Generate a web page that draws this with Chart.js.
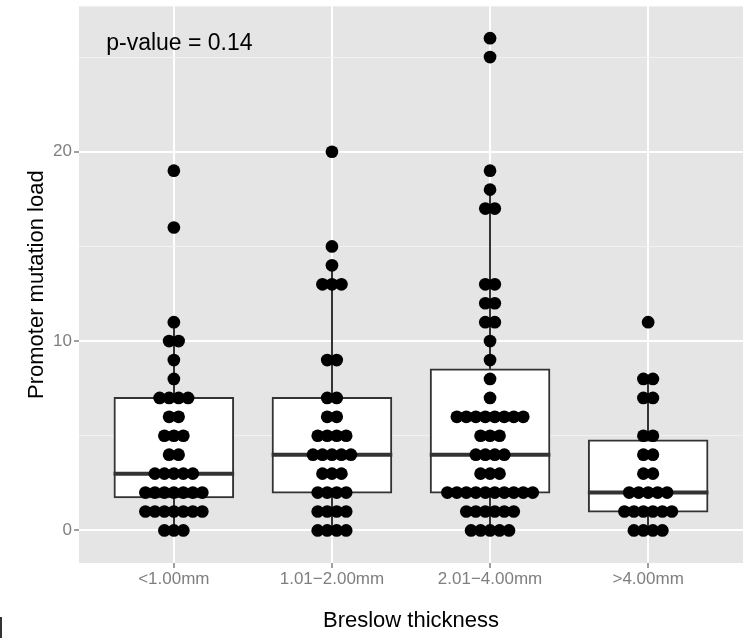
<!DOCTYPE html>
<html>
<head>
<meta charset="utf-8">
<title>Promoter mutation load by Breslow thickness</title>
<script src="https://cdn.jsdelivr.net/npm/chart.js@4/dist/chart.umd.min.js"></script>
<style>
  html, body { margin: 0; padding: 0; background: #ffffff; }
  #wrap { position: relative; width: 751px; height: 638px; }
  #edge { position: absolute; left: 0; top: 617px; width: 2px; height: 21px; background: #333333; }
</style>
</head>
<body>
<div id="wrap">
  <canvas id="chart" width="751" height="638"></canvas>
  <div id="edge"></div>
</div>
<script>
// Breslow thickness groups (x categories)
const categories = ['<1.00mm', '1.01\u22122.00mm', '2.01\u22124.00mm', '>4.00mm'];

// Promoter mutation load per tumour, one array per group
const loadUnder1mm = [0,0,0, 1,1,1,1,1,1,1, 2,2,2,2,2,2,2, 3,3,3,3,3, 4,4, 5,5,5, 6,6, 7,7,7,7, 8, 9, 10,10, 11, 16, 19];
const load1to2mm   = [0,0,0,0, 1,1,1,1, 2,2,2,2, 3,3,3, 4,4,4,4,4, 5,5,5,5, 6,6, 7,7, 9,9, 13,13,13, 14, 15, 20];
const load2to4mm   = [0,0,0,0,0, 1,1,1,1,1,1, 2,2,2,2,2,2,2,2,2,2, 3,3,3, 4,4,4,4, 5,5,5, 6,6,6,6,6,6,6,6, 7, 8, 9, 10, 11,11, 12,12, 13,13, 17,17, 18, 19, 25, 26];
const loadOver4mm  = [0,0,0,0, 1,1,1,1,1,1, 2,2,2,2,2, 3,3, 4,4, 5,5, 7,7, 8,8, 11];

// Axis tick values
const yMajorTicks = [0, 10, 20];
const yMinorTicks = [5, 15, 25];

const pValueLabel = 'p-value = 0.14';

const groups = [loadUnder1mm, load1to2mm, load2to4mm, loadOver4mm];

const FONT = "'Liberation Sans', Arial, Helvetica, sans-serif";
const INK = '#333333';
const AXIS_TEXT = '#7F7F7F';
const DOT_STEP = 0.06;     // horizontal spacing of stacked dots, in x units
const DOT_RADIUS = 6.35;

// Tukey box statistics with type-7 quantiles
function quantile(sorted, p) {
  const h = (sorted.length - 1) * p;
  const lo = Math.floor(h), hi = Math.ceil(h);
  return sorted[lo] + (h - lo) * (sorted[hi] - sorted[lo]);
}
function boxStats(values) {
  const s = values.slice().sort((a, b) => a - b);
  const q1 = quantile(s, 0.25), med = quantile(s, 0.5), q3 = quantile(s, 0.75);
  const iqr = q3 - q1;
  const upper = Math.max(...s.filter(v => v <= q3 + 1.5 * iqr));
  const lower = Math.min(...s.filter(v => v >= q1 - 1.5 * iqr));
  return { q1, med, q3, upper, lower };
}
const stats = groups.map(boxStats);

// Centred dot stacks: equal values are spread sideways around the group centre
function dotPoints(values, gi) {
  const counts = new Map();
  values.forEach(v => counts.set(v, (counts.get(v) || 0) + 1));
  const pts = [];
  counts.forEach((n, v) => {
    for (let k = 0; k < n; k++) {
      pts.push({ x: gi + 1 + (k - (n - 1) / 2) * DOT_STEP, y: v });
    }
  });
  return pts;
}
const dots = groups.flatMap((g, i) => dotPoints(g, i));

const BOX_INDEX = 1;

const panelPlugin = {
  id: 'panel',
  beforeDraw(chart) {
    const { ctx, chartArea: a } = chart;
    ctx.save();
    ctx.fillStyle = '#E5E5E5';
    ctx.fillRect(a.left, a.top, a.right - a.left, a.bottom - a.top);
    ctx.restore();
  },
  beforeDatasetsDraw(chart) {
    // whiskers sit underneath boxes and dots
    const { ctx, scales: { x, y } } = chart;
    ctx.save();
    ctx.strokeStyle = INK;
    ctx.lineWidth = 2;
    stats.forEach((s, i) => {
      const px = Math.round(x.getPixelForValue(i + 1));
      ctx.beginPath();
      ctx.moveTo(px, y.getPixelForValue(s.q3));
      ctx.lineTo(px, y.getPixelForValue(s.upper));
      ctx.moveTo(px, y.getPixelForValue(s.q1));
      ctx.lineTo(px, y.getPixelForValue(s.lower));
      ctx.stroke();
    });
    ctx.restore();
  },
  afterDatasetDraw(chart, args) {
    if (args.index !== BOX_INDEX) return;
    const { ctx, scales: { y } } = chart;
    const meta = chart.getDatasetMeta(BOX_INDEX);
    ctx.save();
    ctx.strokeStyle = INK;
    ctx.lineWidth = 4;
    stats.forEach((s, i) => {
      const bar = meta.data[i];
      const py = y.getPixelForValue(s.med);
      ctx.beginPath();
      ctx.moveTo(bar.x - bar.width / 2 - 1, py);
      ctx.lineTo(bar.x + bar.width / 2 + 1, py);
      ctx.stroke();
    });
    ctx.restore();
  },
  afterDatasetsDraw(chart) {
    const { ctx, scales: { x, y } } = chart;
    ctx.save();
    ctx.font = '23px ' + FONT;
    ctx.fillStyle = '#000000';
    ctx.textAlign = 'center';
    ctx.textBaseline = 'alphabetic';
    ctx.fillText(pValueLabel, x.getPixelForValue(1.035), y.getPixelForValue(25.35));
    ctx.restore();
  }
};

Chart.defaults.font.family = FONT;

new Chart(document.getElementById('chart'), {
  type: 'bar',
  data: {
    datasets: [
      {
        type: 'scatter',
        label: 'tumours',
        data: dots,
        backgroundColor: '#000000',
        borderWidth: 0,
        pointRadius: DOT_RADIUS,
        pointHoverRadius: DOT_RADIUS,
        order: 0
      },
      {
        type: 'bar',
        label: 'IQR',
        data: stats.map((s, i) => ({ x: i + 1, y: [s.q1, s.q3] })),
        backgroundColor: '#FFFFFF',
        borderColor: INK,
        borderWidth: 2,
        borderSkipped: false,
        inflateAmount: 1,
        categoryPercentage: 1,
        barPercentage: 0.75,
        order: 1
      }
    ]
  },
  options: {
    responsive: false,
    animation: false,
    devicePixelRatio: 1,
    layout: { padding: { left: 0, right: 8, top: 4, bottom: 0 } },
    plugins: { legend: { display: false }, tooltip: { enabled: false } },
    scales: {
      x: {
        type: 'linear',
        min: 0.4,
        max: 4.6,
        offset: false,
        afterBuildTicks: s => { s.ticks = categories.map((c, i) => ({ value: i + 1 })); },
        afterFit: s => { s.height = 75; s.paddingLeft = 0; s.paddingRight = 0; },
        ticks: {
          callback: v => categories[v - 1] ?? '',
          color: AXIS_TEXT,
          font: { size: 17 },
          padding: 1,
          autoSkip: false,
          maxRotation: 0
        },
        grid: { offset: false, color: '#FFFFFF', lineWidth: 2, tickColor: AXIS_TEXT, tickLength: 5, tickWidth: 1.5 },
        border: { display: false },
        title: {
          display: true,
          text: 'Breslow thickness',
          color: '#000000',
          font: { size: 22 },
          padding: { top: 0, bottom: 4 }
        }
      },
      y: {
        type: 'linear',
        min: -1.72,
        max: 27.68,
        afterBuildTicks: s => {
          s.ticks = yMajorTicks.concat(yMinorTicks).sort((a, b) => a - b).map(v => ({ value: v }));
        },
        afterFit: s => { s.width = 79; s.paddingTop = 0; s.paddingBottom = 0; },
        ticks: {
          callback: v => yMajorTicks.includes(v) ? String(v) : '',
          color: AXIS_TEXT,
          font: { size: 17 },
          padding: 2,
          autoSkip: false
        },
        grid: {
          offset: false,
          color: c => (c.tick && yMajorTicks.includes(c.tick.value)) ? '#FFFFFF' : '#F2F2F2',
          lineWidth: c => (c.tick && yMajorTicks.includes(c.tick.value)) ? 2 : 1,
          tickColor: c => (c.tick && yMajorTicks.includes(c.tick.value)) ? AXIS_TEXT : 'rgba(0,0,0,0)',
          tickLength: 5,
          tickWidth: 1.5
        },
        border: { display: false },
        title: {
          display: true,
          text: 'Promoter mutation load',
          color: '#000000',
          font: { size: 22 },
          padding: { top: 24, bottom: 0 }
        }
      }
    }
  },
  plugins: [panelPlugin]
});
</script>
</body>
</html>
